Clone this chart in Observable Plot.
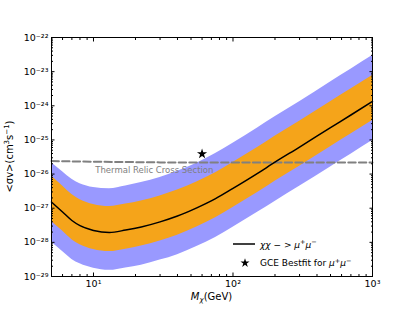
<!DOCTYPE html>
<html><head><meta charset="utf-8">
<script src="https://cdn.jsdelivr.net/npm/d3@7"></script>
<script src="https://cdn.jsdelivr.net/npm/@observablehq/plot@0.6"></script>
<style>body{margin:0;background:#fff} svg{display:block}</style>
</head><body><div id="chart"></div>
<script>
// Dark-matter mass (GeV)
const masses = [5, 6, 7, 8, 10, 13, 17, 22, 30, 40, 55, 75, 100, 150, 200, 300, 500, 700, 1000];
// log10 of <σv> (cm^3 s^-1)
const medianExp   = [-26.82, -27.11, -27.36, -27.51, -27.65, -27.71, -27.64, -27.55, -27.40, -27.23, -26.99, -26.72, -26.42, -25.98, -25.65, -25.21, -24.64, -24.27, -23.87];
const orangeHiExp = [-26.06, -26.35, -26.60, -26.75, -26.89, -26.95, -26.88, -26.79, -26.64, -26.47, -26.23, -25.96, -25.66, -25.22, -24.89, -24.45, -23.88, -23.51, -23.11];
const orangeLoExp = [-27.38, -27.67, -27.92, -28.07, -28.21, -28.27, -28.20, -28.11, -27.96, -27.79, -27.55, -27.28, -26.98, -26.54, -26.21, -25.77, -25.20, -24.83, -24.43];
const blueHiExp   = [-25.67, -25.93, -26.15, -26.28, -26.39, -26.43, -26.35, -26.25, -26.10, -25.92, -25.68, -25.40, -25.10, -24.65, -24.32, -23.88, -23.30, -22.93, -22.53];
const blueLoExp   = [-28.00, -28.27, -28.50, -28.63, -28.76, -28.82, -28.75, -28.67, -28.52, -28.36, -28.12, -27.86, -27.56, -27.12, -26.80, -26.36, -25.79, -25.42, -25.02];
// Thermal relic cross section
const relicMasses = [5, 10, 30, 100, 300, 1000];
const relicValues = [2.4e-26, 2.3e-26, 2.2e-26, 2.2e-26, 2.2e-26, 2.2e-26];
const relicLabel = "Thermal Relic Cross Section";
const relicLabelAt = {m: 10.3, v: 1.27e-26};
// GCE best fit
const gceMass = [60];
const gceValue = [3.9e-26];
// Ticks
const xMajor = [10, 100, 1000];
const yMajor = [1e-29, 1e-28, 1e-27, 1e-26, 1e-25, 1e-24, 1e-23, 1e-22];

const xMinor = [];
for (const e of [0, 1, 2]) for (let k = 2; k <= 9; k++) { const v = k * 10 ** e; if (v > 5 && v < 1000) xMinor.push(v); }
const yMinor = [];
for (let e = -29; e <= -23; e++) for (let k = 2; k <= 9; k++) yMinor.push(k * 10 ** e);

const rows = masses.map((m, i) => ({
  m, median: 10 ** medianExp[i], orangeHi: 10 ** orangeHiExp[i], orangeLo: 10 ** orangeLoExp[i],
  blueHi: 10 ** blueHiExp[i], blueLo: 10 ** blueLoExp[i]
}));
const relicRows = relicMasses.map((m, i) => ({m, v: relicValues[i]}));
const starRows = gceMass.map((m, i) => ({m, v: gceValue[i]}));

const supMap = {"-": "⁻", "0": "⁰", "1": "¹", "2": "²", "3": "³", "4": "⁴", "5": "⁵", "6": "⁶", "7": "⁷", "8": "⁸", "9": "⁹"};
const sup = s => String(s).replace(/[-0-9]/g, c => supMap[c]);
const fmt = d => "10" + sup(Math.round(Math.log10(d)));
const blank = () => "";

const W = 415, H = 311, mL = 51, mR = 43, mT = 37, mB = 35;
const MAJ = -3.5, MIN = -2;
const FS = 9.5;

const plot = Plot.plot({
  width: W, height: H, marginLeft: mL, marginRight: mR, marginTop: mT, marginBottom: mB,
  style: {fontFamily: "'DejaVu Sans', sans-serif", fontSize: "9.5px", background: "#fff", color: "black"},
  x: {type: "log", domain: [5, 1000]},
  y: {type: "log", domain: [1e-29, 1e-22]},
  marks: [
    Plot.areaY(rows, {x: "m", y1: "blueLo", y2: "blueHi", fill: "#9999ff", curve: "monotone-x"}),
    Plot.areaY(rows, {x: "m", y1: "orangeLo", y2: "orangeHi", fill: "#f5a41a", curve: "monotone-x"}),
    Plot.line(relicRows, {x: "m", y: "v", stroke: "#808080", strokeWidth: 2, strokeDasharray: "7.4,3.2"}),
    Plot.line(rows, {x: "m", y: "median", stroke: "black", strokeWidth: 1.5, curve: "monotone-x"}),
    Plot.text([relicLabelAt], {x: "m", y: "v", text: () => relicLabel, textAnchor: "start", fill: "#808080", fontSize: 8.5}),
    Plot.dot(starRows, {x: "m", y: "v", symbol: "star", fill: "black", stroke: null, r: 3.2}),
    Plot.axisX({anchor: "bottom", ticks: xMajor, tickSize: MAJ, tickPadding: 7.5, tickFormat: fmt, label: null, fontSize: FS}),
    Plot.axisX({anchor: "bottom", ticks: xMinor, tickSize: MIN, tickFormat: blank, label: null}),
    Plot.axisX({anchor: "top", ticks: xMajor, tickSize: MAJ, tickFormat: blank, label: null}),
    Plot.axisX({anchor: "top", ticks: xMinor, tickSize: MIN, tickFormat: blank, label: null}),
    Plot.axisY({anchor: "left", ticks: yMajor, tickSize: MAJ, tickPadding: 6.5, tickFormat: fmt, label: null, fontSize: FS}),
    Plot.axisY({anchor: "left", ticks: yMinor, tickSize: MIN, tickFormat: blank, label: null}),
    Plot.axisY({anchor: "right", ticks: yMajor, tickSize: MAJ, tickFormat: blank, label: null}),
    Plot.axisY({anchor: "right", ticks: yMinor, tickSize: MIN, tickFormat: blank, label: null}),
    Plot.frame({stroke: "black", strokeWidth: 1})
  ]
});
document.getElementById("chart").appendChild(plot);

const svg = d3.select(plot);
const font = "'DejaVu Sans', sans-serif";
// y-axis label
const yl = svg.append("text").attr("transform", `translate(13,${(mT + H - mB) / 2}) rotate(-90)`)
  .attr("text-anchor", "middle").attr("font-family", font).attr("font-size", 10).attr("fill", "black");
yl.append("tspan").text("<σv>(cm");
yl.append("tspan").attr("font-size", 7).attr("dy", -4).text("3");
yl.append("tspan").attr("dy", 4).text("s");
yl.append("tspan").attr("font-size", 7).attr("dy", -4).text("−1");
yl.append("tspan").attr("dy", 4).text(")");
// x-axis label
const xl = svg.append("text").attr("x", (mL + W - mR) / 2).attr("y", 300)
  .attr("text-anchor", "middle").attr("font-family", font).attr("font-size", 10).attr("fill", "black");
xl.append("tspan").attr("font-style", "italic").text("M");
xl.append("tspan").attr("font-style", "italic").attr("font-size", 7).attr("dy", 2).text("χ");
xl.append("tspan").attr("dy", -2).text("(GeV)");
// legend
const lg = svg.append("g").attr("font-family", font).attr("font-size", 9).attr("fill", "black").attr("text-anchor", "start");
lg.append("line").attr("x1", 233).attr("x2", 255).attr("y1", 244).attr("y2", 244).attr("stroke", "black").attr("stroke-width", 1.5);
const t1 = lg.append("text").attr("x", 260).attr("y", 247.5).attr("text-anchor", "start");
t1.append("tspan").attr("font-style", "italic").text("χχ");
t1.append("tspan").text(" − > ");
t1.append("tspan").attr("font-style", "italic").text("μ");
t1.append("tspan").attr("font-size", 6.5).attr("dy", -3.5).text("+");
t1.append("tspan").attr("font-style", "italic").attr("dy", 3.5).text("μ");
t1.append("tspan").attr("font-size", 6.5).attr("dy", -3.5).text("−");
lg.append("path").attr("d", d3.symbol(d3.symbolStar, 26)()).attr("transform", "translate(245,263)").attr("fill", "black");
const t2 = lg.append("text").attr("x", 260).attr("y", 266).attr("text-anchor", "start");
t2.append("tspan").text("GCE Bestfit for ");
t2.append("tspan").attr("font-style", "italic").text("μ");
t2.append("tspan").attr("font-size", 6.5).attr("dy", -3.5).text("+");
t2.append("tspan").attr("font-style", "italic").attr("dy", 3.5).text("μ");
t2.append("tspan").attr("font-size", 6.5).attr("dy", -3.5).text("−");
</script>
</body></html>
